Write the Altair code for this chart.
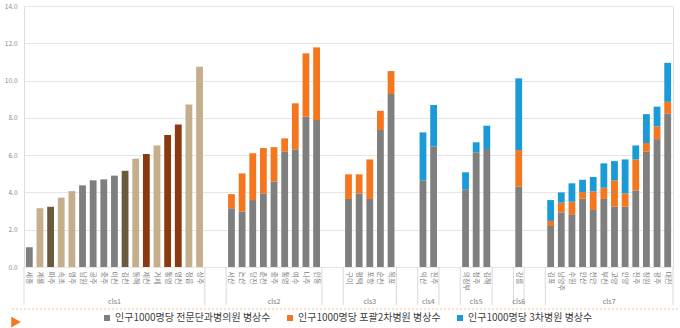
import altair as alt
import pandas as pd

S1 = "인구1000명당 전문단과병의원 병상수"
S2 = "인구1000명당 포괄2차병원 병상수"
S3 = "인구1000명당 3차병원 병상수"

groups = ["cls1", "cls2", "cls3", "cls4", "cls5", "cls6", "cls7"]

cls1_names = ["세종", "계룡", "파주", "속초", "영주", "남원", "공주", "충주", "이천",
              "김천", "동해", "제천", "거제", "통영", "영천", "정읍", "상주"]
cls1_gray = [1.06, 3.15, 3.23, 3.72, 4.07, 4.38, 4.65, 4.70, 4.90,
             5.16, 5.81, 6.06, 6.52, 7.08, 7.65, 8.72, 10.74]
cls1_kind = ["g", "t", "b", "t", "t", "g", "g", "g", "g",
             "b", "t", "r", "t", "r", "r", "t", "t"]

cls2_names = ["서산", "논산", "당진", "춘천", "충주", "통영", "여수", "나주", "안동"]
cls2_gray = [3.15, 2.97, 3.59, 3.95, 4.58, 6.18, 6.31, 8.06, 7.88]
cls2_orange = [0.76, 2.05, 2.51, 2.43, 1.85, 0.72, 2.47, 3.40, 3.90]

cls3_names = ["구미", "평택", "포항", "순천", "목포"]
cls3_gray = [3.65, 3.95, 3.65, 7.35, 9.28]
cls3_orange = [1.32, 1.02, 2.12, 1.03, 1.23]

cls4_names = ["익산", "진주"]
cls4_gray = [4.65, 6.47]
cls4_blue = [2.57, 2.22]

cls5_names = ["의정부", "청주", "김해"]
cls5_gray = [4.17, 6.15, 6.33]
cls5_blue = [0.91, 0.54, 1.25]

cls6_names = ["강릉"]
cls6_gray = [4.31]
cls6_orange = [1.96]
cls6_blue = [3.85]

cls7_names = ["김포", "남양주", "수원", "안산", "천안", "부천", "고양", "안양",
              "전주", "창원", "광주", "대전"]
cls7_gray = [2.20, 2.93, 2.83, 3.66, 3.06, 3.65, 3.23, 3.23, 4.11, 6.18, 6.86, 8.22]
cls7_orange = [0.27, 0.52, 0.67, 0.36, 1.00, 0.60, 1.42, 0.72, 1.66, 0.47, 0.68, 0.64]
cls7_blue = [1.12, 0.55, 0.99, 0.66, 0.77, 1.31, 1.03, 1.82, 0.75, 1.55, 1.06, 2.09]

y_ticks = [0, 2, 4, 6, 8, 10, 12, 14]

kind_map = {"g": S1, "t": "tan", "b": "brown", "r": "rust"}
color_domain = [S1, S2, S3, "tan", "brown", "rust"]
color_range = ["#7F7F7F", "#F4761F", "#1A9BD7", "#C4AE8B", "#6B5A3D", "#8A3A10"]

group_data = [
    (cls1_names, cls1_gray, None, None, cls1_kind),
    (cls2_names, cls2_gray, cls2_orange, None, None),
    (cls3_names, cls3_gray, cls3_orange, None, None),
    (cls4_names, cls4_gray, None, cls4_blue, None),
    (cls5_names, cls5_gray, None, cls5_blue, None),
    (cls6_names, cls6_gray, cls6_orange, cls6_blue, None),
    (cls7_names, cls7_gray, cls7_orange, cls7_blue, None),
]

rows = []
domain = []
bounds = []        # first category of each group / gap
mid_odd = []       # groups with odd count: middle key (band centre)
mid_even = []      # groups with even count: key right of centre (band start)
for gi, (g, (names, gray, orange, blue, kinds)) in enumerate(zip(groups, group_data)):
    keys = []
    for i, n in enumerate(names):
        key = f"{g}|{n}"
        keys.append(key)
        domain.append(key)
        rows.append(dict(key=key, series=kind_map[kinds[i]] if kinds else S1, value=gray[i], ord=0))
        if orange:
            rows.append(dict(key=key, series=S2, value=orange[i], ord=1))
        if blue:
            rows.append(dict(key=key, series=S3, value=blue[i], ord=2))
    bounds.append(keys[0])
    if len(keys) % 2:
        mid_odd.append((keys[len(keys) // 2], g))
    else:
        mid_even.append((keys[len(keys) // 2], g))
    if gi < len(groups) - 1:
        gk = f"{g}gapA|"
        domain.append(gk)
        domain.append(f"{g}gapB|")
        bounds.append(gk)

df = pd.DataFrame(rows)
W, H = 649, 261

x_scale = alt.Scale(domain=domain, paddingInner=0, paddingOuter=0)
FONT = "Noto Sans CJK KR"

bars = alt.Chart(df).mark_bar(width=alt.RelativeBandSize(0.64)).encode(
    x=alt.X("key:N", scale=x_scale, sort=domain, title=None,
            axis=alt.Axis(labelExpr="split(datum.value, '|')[1] || ''", labelAngle=90,
                          labelFontSize=7, labelColor="#7a7a7a", labelPadding=4,
                          ticks=False, domain=False, grid=False, labelOverlap=False,
                          labelFont=FONT)),
    y=alt.Y("value:Q", stack="zero", scale=alt.Scale(domain=[0, 14], nice=False), title=None,
            axis=alt.Axis(values=y_ticks, format=".1f", labelFontSize=6.5, labelColor="#8a8a8a",
                          labelPadding=7, ticks=False, domain=False, gridColor="#E6E6E6",
                          labelFont=FONT)),
    color=alt.Color("series:N", scale=alt.Scale(domain=color_domain, range=color_range),
                    legend=alt.Legend(values=[S1, S2, S3], orient="none", legendX=78, legendY=H + 46,
                                      direction="horizontal", title=None, symbolType="square",
                                      symbolSize=36, symbolStrokeWidth=0, labelFontSize=10,
                                      labelColor="#404040", columnPadding=14, labelLimit=0,
                                      labelOffset=3, padding=0, labelFont=FONT)),
    order=alt.Order("ord:Q"),
)

sep_df = pd.DataFrame({"key": bounds})
seps = alt.Chart(sep_df).mark_tick(color="#D9D9D9", thickness=1, size=38, orient="vertical",
                                   opacity=1).encode(
    x=alt.X("key:N", scale=x_scale, bandPosition=0),
    y=alt.value(H + 19),
)
end_sep = alt.Chart(pd.DataFrame({"key": [domain[-1]]})).mark_tick(
    color="#D9D9D9", thickness=1, size=38, orient="vertical", opacity=1).encode(
    x=alt.X("key:N", scale=x_scale, bandPosition=1),
    y=alt.value(H + 19),
)

lab_odd = alt.Chart(pd.DataFrame(mid_odd, columns=["key", "g"])).mark_text(
    fontSize=7, color="#7a7a7a", font=FONT, baseline="middle").encode(
    x=alt.X("key:N", scale=x_scale, bandPosition=0.5),
    y=alt.value(H + 35), text="g:N",
)
lab_even = alt.Chart(pd.DataFrame(mid_even, columns=["key", "g"])).mark_text(
    fontSize=7, color="#7a7a7a", font=FONT, baseline="middle").encode(
    x=alt.X("key:N", scale=x_scale, bandPosition=0),
    y=alt.value(H + 35), text="g:N",
)

one = pd.DataFrame({"a": [0]})
dash = alt.Chart(one).mark_rule(color="#F6BE8C", strokeDash=[2, 2], strokeWidth=1).encode(
    x=alt.value(-12), x2=alt.value(W + 7), y=alt.value(H + 42),
)
tri = alt.Chart(one).mark_point(shape="triangle-right", filled=True, size=120,
                                color="#F07A22", opacity=1).encode(
    x=alt.value(-8), y=alt.value(H + 55),
)

chart = alt.layer(bars, seps, end_sep, lab_odd, lab_even, dash, tri).properties(
    width=W, height=H,
    autosize=alt.AutoSizeParams(type="none"),
    padding={"left": 24, "top": 6, "right": 7, "bottom": 61},
).configure_view(stroke=None).configure(font=FONT)

chart.save("out.html", embed_options={"renderer": "svg", "actions": False})
